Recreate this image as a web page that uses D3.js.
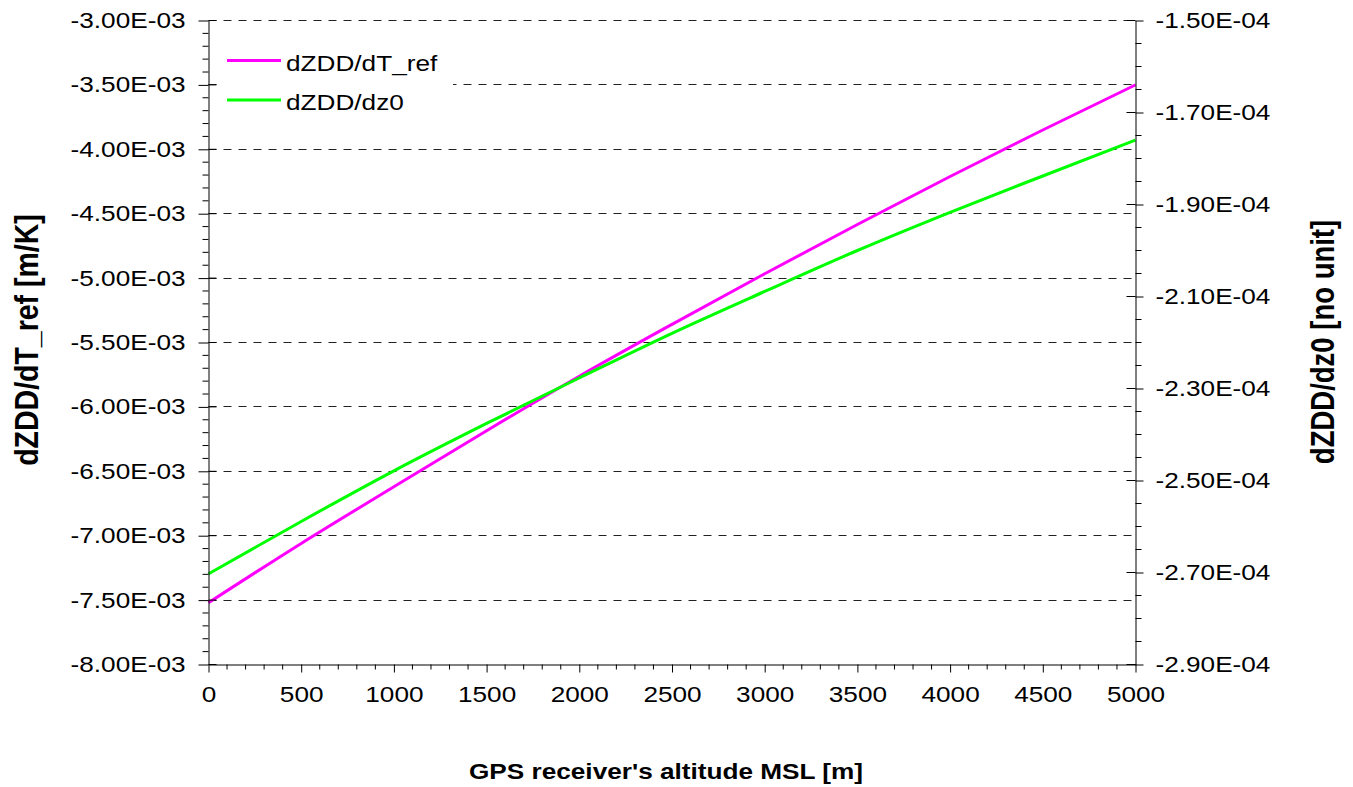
<!DOCTYPE html>
<html>
<head>
<meta charset="utf-8">
<script src="https://cdn.jsdelivr.net/npm/d3@7"></script>
<style>
  html, body { margin: 0; padding: 0; background: #fff; }
  svg { display: block; }
  text { font-family: "Liberation Sans", Arial, sans-serif; fill: #000; }
</style>
</head>
<body>
<svg id="chart" width="1353" height="787"></svg>
<script>
// Sensitivities of the zenith dry delay versus receiver altitude
const altitude = [0, 500, 1000, 1500, 2000, 2500, 3000, 3500, 4000, 4500, 5000];
const dZDDdTref = [-7.520e-3, -7.060e-3, -6.620e-3, -6.185e-3, -5.762e-3, -5.359e-3,
                   -4.966e-3, -4.584e-3, -4.211e-3, -3.850e-3, -3.500e-3];
const dZDDdz0 = [-2.703e-4, -2.589e-4, -2.479e-4, -2.376e-4, -2.277e-4, -2.180e-4,
                 -2.089e-4, -2.000e-4, -1.917e-4, -1.838e-4, -1.760e-4];

const seriesNames = ["dZDD/dT_ref", "dZDD/dz0"];
const seriesColors = ["#ff00ff", "#00ff00"];

const xTicks = [0, 500, 1000, 1500, 2000, 2500, 3000, 3500, 4000, 4500, 5000];
const leftTicks = [-3.0e-3, -3.5e-3, -4.0e-3, -4.5e-3, -5.0e-3, -5.5e-3,
                   -6.0e-3, -6.5e-3, -7.0e-3, -7.5e-3, -8.0e-3];
const rightTicks = [-1.5e-4, -1.7e-4, -1.9e-4, -2.1e-4, -2.3e-4, -2.5e-4, -2.7e-4, -2.9e-4];

const xTitle = "GPS receiver's altitude MSL [m]";
const leftTitle = "dZDD/dT_ref [m/K]";
const rightTitle = "dZDD/dz0 [no unit]";

// layout
const L = 208.5, R = 1135.5, T = 20.5, B = 664.5;
const SX = 1.19;          // horizontal widening of the lettering
const FS = 22;            // label font size

const svg = d3.select("#chart");

const x = d3.scaleLinear().domain([0, 5000]).range([L, R]);
const yL = d3.scaleLinear().domain([-8e-3, -3e-3]).range([B, T]);
const yR = d3.scaleLinear().domain([-2.9e-4, -1.5e-4]).range([B, T]);

// "-3.00E-03" style labels
function sci(v) {
  if (v === 0) return "0.00E+00";
  const e = Math.floor(Math.log10(Math.abs(v)) + 1e-9);
  const m = v / Math.pow(10, e);
  const sign = e < 0 ? "-" : "+";
  return m.toFixed(2) + "E" + sign + String(Math.abs(e)).padStart(2, "0");
}

// minor tick values
const xMinor = d3.range(0, 51).map(i => i * 100).filter(v => v % 500 !== 0);
const leftMinor = d3.range(0, 51).map(i => -3e-3 - i * 0.1e-3).filter((v, i) => i % 5 !== 0);
const rightMinor = d3.range(0, 29).map(i => -1.5e-4 - i * 0.05e-4).filter((v, i) => i % 4 !== 0);

// dashed horizontal grid at the left axis major ticks (the bottom one is the x axis)
svg.append("g")
  .selectAll("line")
  .data(leftTicks.filter(v => v > -8e-3 + 1e-9))
  .join("line")
  .attr("x1", L).attr("x2", R)
  .attr("y1", d => Math.round(yL(d) - 0.5) + 0.5)
  .attr("y2", d => Math.round(yL(d) - 0.5) + 0.5)
  .attr("stroke", "#222")
  .attr("stroke-width", 1)
  .attr("stroke-dasharray", "8,7");

// curves
const line = d3.line().curve(d3.curveMonotoneX);
const seriesPts = [
  altitude.map((a, i) => [x(a), yL(dZDDdTref[i])]),
  altitude.map((a, i) => [x(a), yR(dZDDdz0[i])])
];
svg.append("g")
  .selectAll("path")
  .data(seriesPts)
  .join("path")
  .attr("d", d => line(d))
  .attr("fill", "none")
  .attr("stroke", (d, i) => seriesColors[i])
  .attr("stroke-width", 3)
  .attr("stroke-linejoin", "round");

// axes
function styleAxis(g) {
  g.selectAll("path.domain").attr("stroke", "#000").attr("stroke-width", 1);
  g.selectAll(".tick line").attr("stroke", "#000").attr("stroke-width", 1);
}
function widenLabels(g) {
  g.selectAll(".tick text")
    .attr("font-size", FS)
    .attr("font-family", '"Liberation Sans", Arial, sans-serif')
    .attr("fill", "#000")
    .each(function () {
      const t = d3.select(this);
      const xx = +t.attr("x") || 0;
      t.attr("x", xx / SX).attr("transform", `scale(${SX},1)`);
    });
}

// left axis
const gL = svg.append("g").attr("transform", `translate(${L},0)`);
gL.call(d3.axisLeft(yL).tickValues(leftTicks).tickFormat(sci).tickSize(10).tickSizeOuter(0).tickPadding(13));
styleAxis(gL);
widenLabels(gL);
gL.selectAll(".minor").data(leftMinor).join("line").attr("class", "minor")
  .attr("x1", -6).attr("x2", 0)
  .attr("y1", d => yL(d)).attr("y2", d => yL(d))
  .attr("stroke", "#000");
gL.selectAll(".inner").data(leftTicks).join("line").attr("class", "inner")
  .attr("x1", 0).attr("x2", 8)
  .attr("y1", d => yL(d)).attr("y2", d => yL(d))
  .attr("stroke", "#000");

// right axis
const gR = svg.append("g").attr("transform", `translate(${R},0)`);
gR.call(d3.axisRight(yR).tickValues(rightTicks).tickFormat(sci).tickSize(8).tickSizeOuter(0).tickPadding(12));
styleAxis(gR);
widenLabels(gR);
gR.selectAll(".minor").data(rightMinor).join("line").attr("class", "minor")
  .attr("x1", 0).attr("x2", 6)
  .attr("y1", d => yR(d)).attr("y2", d => yR(d))
  .attr("stroke", "#000");
gR.selectAll(".inner").data(rightTicks).join("line").attr("class", "inner")
  .attr("x1", -9).attr("x2", 0)
  .attr("y1", d => yR(d)).attr("y2", d => yR(d))
  .attr("stroke", "#000");

// bottom axis
const gX = svg.append("g").attr("transform", `translate(0,${B})`);
gX.call(d3.axisBottom(x).tickValues(xTicks).tickFormat(d3.format("d")).tickSize(8).tickSizeOuter(0).tickPadding(14));
styleAxis(gX);
gX.selectAll(".tick text").attr("font-size", FS).attr("fill", "#000")
  .attr("font-family", '"Liberation Sans", Arial, sans-serif')
  .attr("transform", `scale(${SX},1)`);
gX.selectAll(".minor").data(xMinor).join("line").attr("class", "minor")
  .attr("x1", d => x(d)).attr("x2", d => x(d))
  .attr("y1", 0).attr("y2", 5)
  .attr("stroke", "#000");

// legend
const lg = svg.append("g");
lg.append("rect").attr("x", 217).attr("y", 38).attr("width", 236).attr("height", 84).attr("fill", "#fff");
seriesNames.forEach((name, i) => {
  const cy = 60.5 + i * 39.5;
  lg.append("line").attr("x1", 227).attr("x2", 281).attr("y1", cy).attr("y2", cy)
    .attr("stroke", seriesColors[i]).attr("stroke-width", 3);
  lg.append("text").attr("transform", `translate(286,${cy + 10}) scale(${SX},1)`)
    .attr("font-size", FS).text(name);
});

// axis titles
svg.append("text")
  .attr("transform", `translate(666,779) scale(${SX},1)`)
  .attr("text-anchor", "middle").attr("font-size", FS).attr("font-weight", "bold")
  .text(xTitle);
svg.append("text")
  .attr("transform", `translate(38,340) rotate(-90) scale(1,${SX})`)
  .attr("text-anchor", "middle").attr("font-size", 28.5).attr("font-weight", "bold")
  .text(leftTitle);
svg.append("text")
  .attr("transform", `translate(1334,342) rotate(-90) scale(1,${SX})`)
  .attr("text-anchor", "middle").attr("font-size", 27.5).attr("font-weight", "bold")
  .text(rightTitle);
</script>
</body>
</html>
